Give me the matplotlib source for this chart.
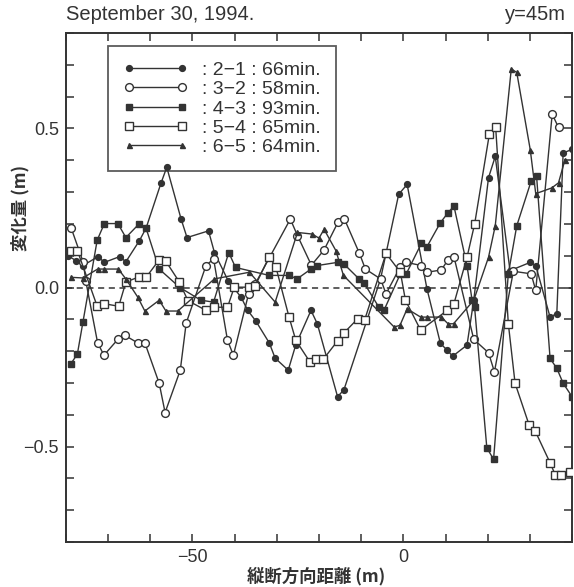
import matplotlib
matplotlib.use("Agg")
import matplotlib.pyplot as plt
from matplotlib.ticker import FixedLocator, FixedFormatter

plt.rcParams['font.family'] = ['Liberation Sans', 'Noto Sans CJK JP', 'DejaVu Sans']

# ---- data ----
labels = [": 2\u22121 : 66min.", ": 3\u22122 : 58min.", ": 4\u22123 : 93min.",
          ": 5\u22124 : 65min.", ": 6\u22125 : 64min."]

x21 = [-79.5, -77.6, -76.0, -72.4, -70.9, -67.3, -65.8, -62.6, -61.0, -57.5, -56.1,
       -52.7, -51.3, -46.2, -44.8, -41.5, -38.5, -36.9, -35.0, -31.8, -30.4, -27.3,
       -25.5, -21.9, -20.4, -15.6, -14.1, -5.4, -1.1, 0.9, 5.6, 8.8, 10.4, 11.7,
       15.1, 16.7, 20.2, 21.8, 25.3, 30.1, 31.4, 34.8, 36.4, 37.9, 40.0]
y21 = [0.10, 0.084, 0.069, 0.097, 0.079, 0.097, 0.081, 0.147, 0.187, 0.327, 0.378,
       0.215, 0.157, 0.178, 0.110, 0.020, -0.030, -0.072, -0.105, -0.174, -0.222, -0.260,
       -0.180, -0.072, -0.114, -0.343, -0.322, 0.027, 0.293, 0.324, -0.004, -0.176, -0.197, -0.216,
       -0.181, -0.040, 0.345, 0.412, 0.053, 0.079, 0.069, -0.093, -0.082, 0.423, 0.434]

x32 = [-78.8, -75.9, -75.3, -72.5, -71.0, -67.7, -66.1, -63.0, -61.3, -57.9, -56.5,
       -52.9, -51.5, -46.8, -45.0, -41.7, -40.3, -36.7, -35.1, -26.8, -25.1, -21.8,
       -18.8, -15.5, -14.0, -10.4, -9.0, -5.4, -4.1, -0.7, 0.7, 4.3, 5.6, 9.0, 10.6,
       12.0, 16.7, 20.2, 21.6, 26.1, 30.3, 31.4, 35.3, 36.8]
y32 = [0.188, 0.079, 0.020, -0.174, -0.213, -0.163, -0.150, -0.174, -0.174, -0.301, -0.393,
       -0.260, -0.112, 0.069, 0.090, -0.166, -0.213, -0.020, 0.012, 0.215, 0.163, 0.070,
       0.118, 0.205, 0.216, 0.107, 0.058, 0.027, -0.020, 0.066, 0.079, 0.069, 0.048, 0.055, 0.087,
       0.097, -0.163, -0.205, -0.265, 0.051, 0.043, -0.009, 0.545, 0.503]

x43 = [-78.8, -77.3, -76.0, -72.6, -70.9, -67.7, -65.8, -62.6, -61.0, -57.9, -53.0,
       -48.0, -45.0, -41.4, -39.8, -31.8, -27.1, -25.2, -21.9, -20.4, -15.6, -14.1,
       -10.5, -9.3, -5.8, -4.6, -0.7, 0.7, 4.3, 5.6, 8.8, 10.6, 12.0, 15.1, 16.3, 16.9,
       19.8, 21.4, 24.9, 26.9, 30.3, 31.6, 34.8, 36.4, 37.9, 40.0]
y43 = [-0.239, -0.209, -0.110, 0.149, 0.201, 0.201, 0.157, 0.201, 0.186, 0.058, 0.000,
       -0.040, -0.046, 0.110, 0.063, 0.038, 0.038, 0.027, 0.058, 0.069, 0.079, 0.074,
       0.027, 0.014, -0.062, -0.072, 0.043, 0.043, 0.139, 0.128, 0.204, 0.235, 0.256, 0.069, -0.040, -0.062,
       -0.504, -0.540, 0.043, 0.194, 0.334, 0.350, -0.223, -0.254, -0.301, -0.343]

x54 = [-78.8, -77.3, -72.6, -70.9, -67.5, -65.8, -62.6, -61.0, -57.9, -56.3, -53.1,
       -51.1, -46.8, -45.0, -41.7, -40.1, -36.7, -35.1, -31.8, -30.2, -27.1, -25.5,
       -22.2, -20.8, -19.0, -15.6, -14.1, -10.8, -9.2, -4.1, -0.7, 0.5, 4.1, 10.4,
       12.0, 15.1, 16.9, 20.4, 21.9, 24.9, 26.5, 29.8, 31.3, 34.8, 36.0, 37.5, 39.5]
y54 = [0.116, 0.116, -0.059, -0.051, -0.059, 0.017, 0.034, 0.032, 0.087, 0.082, 0.017,
       -0.041, -0.072, -0.062, -0.062, 0.001, 0.001, 0.006, 0.097, 0.063, -0.093, -0.166,
       -0.233, -0.226, -0.226, -0.168, -0.143, -0.098, -0.103, 0.107, 0.048, -0.040, -0.134, -0.072,
       -0.051, 0.095, 0.199, 0.482, 0.503, -0.114, -0.301, -0.431, -0.452, -0.551, -0.588, -0.588, -0.580]

x65 = [-78.8, -76.0, -72.5, -70.9, -67.6, -65.8, -63.0, -61.3, -57.9, -56.3, -53.5,
       -44.8, -36.5, -30.4, -25.1, -21.6, -20.0, -18.8, -16.0, -14.2, -2.2, -0.8, 0.9,
       4.1, 5.6, 9.0, 10.6, 11.9, 16.7, 20.2, 21.8, 25.6, 26.9, 30.1, 31.4, 35.2, 36.8, 38.3]
y65 = [0.032, 0.030, 0.058, 0.058, 0.058, 0.027, -0.030, -0.074, -0.040, -0.074, -0.074,
       0.027, 0.048, -0.046, 0.173, 0.168, 0.155, 0.183, 0.116, 0.038, -0.124, -0.119, -0.067,
       -0.093, -0.093, -0.093, -0.114, -0.114, -0.040, 0.095, 0.194, 0.687, 0.676, 0.433, 0.295, 0.313, 0.329, 0.400]

xlim = (-80, 40)
ylim = (-0.8, 0.8)
xticks = list(range(-80, 41, 10))
yticks = [round(-0.8 + 0.1 * i, 1) for i in range(17)]
xlabel_map = {-50: "\u221250", 0: "0"}
ylabel_map = {-0.5: "\u22120.5", 0.0: "0.0", 0.5: "0.5"}

# ---- figure ----
W, H = 574, 587
fig = plt.figure(figsize=(W / 100, H / 100), dpi=100)
L, R, T, B = 66, 572, 33, 542
ax = fig.add_axes([L / W, 1 - B / H, (R - L) / W, (B - T) / H])

col = '#333333'
styles = [
    dict(marker='o', ms=4.2, mfc=col, mec=col),
    dict(marker='o', ms=5.6, mfc='white', mec=col, mew=1.0),
    dict(marker='s', ms=4.6, mfc=col, mec=col),
    dict(marker='s', ms=5.6, mfc='white', mec=col, mew=1.0),
    dict(marker='^', ms=3.6, mfc=col, mec=col),
]
series = [(x21, y21), (x32, y32), (x43, y43), (x54, y54), (x65, y65)]

ax.axhline(0, color=col, lw=1.1, ls=(0, (4, 3)), zorder=1)
handles = []
for (xs, ys), st, lab in zip(series, styles, labels):
    ln, = ax.plot(xs, ys, color=col, lw=1.0, zorder=3, label=lab, **st)
    handles.append(ln)

ax.set_xlim(*xlim)
ax.set_ylim(*ylim)
ax.xaxis.set_major_locator(FixedLocator(xticks))
ax.xaxis.set_major_formatter(FixedFormatter([xlabel_map.get(t, "") for t in xticks]))
ax.yaxis.set_major_locator(FixedLocator(yticks))
ax.yaxis.set_major_formatter(FixedFormatter([ylabel_map.get(t, "") for t in yticks]))
ax.tick_params(direction='in', length=6, width=1.1, colors=col, labelsize=13,
               top=True, right=True, pad=5)
for s in ax.spines.values():
    s.set_linewidth(1.4)
    s.set_color(col)

leg = ax.legend(handles=handles, loc='upper left',
                bbox_to_anchor=((108 - L) / (R - L), (B - 46) / (B - T)),
                numpoints=2, handlelength=3.3, handletextpad=0.75, borderpad=0.78,
                labelspacing=0.09, fontsize=14, frameon=True, fancybox=False,
                edgecolor=col, borderaxespad=0)
leg.get_frame().set_linewidth(1.3)
leg.set_zorder(2)
for t in leg.get_texts():
    t.set_color(col)

fig.text(L / W, 1 - 15 / H, "September 30, 1994.", ha='left', va='center',
         fontsize=14.5, color=col)
fig.text(566 / W, 1 - 15 / H, "y=45m", ha='right', va='center', fontsize=14.5, color=col)
fig.text(316 / W, 1 - 576 / H, "縦断方向距離 (m)", ha='center', va='center', fontsize=12.5,
         color=col, family=['Noto Sans CJK JP', 'DejaVu Sans'], weight='bold')
fig.text(20 / W, 1 - 208 / H, "変化量 (m)", ha='center', va='center', fontsize=12.5,
         color=col, rotation=90, family=['Noto Sans CJK JP', 'DejaVu Sans'], weight='bold')

fig.savefig("out.png", dpi=100)
